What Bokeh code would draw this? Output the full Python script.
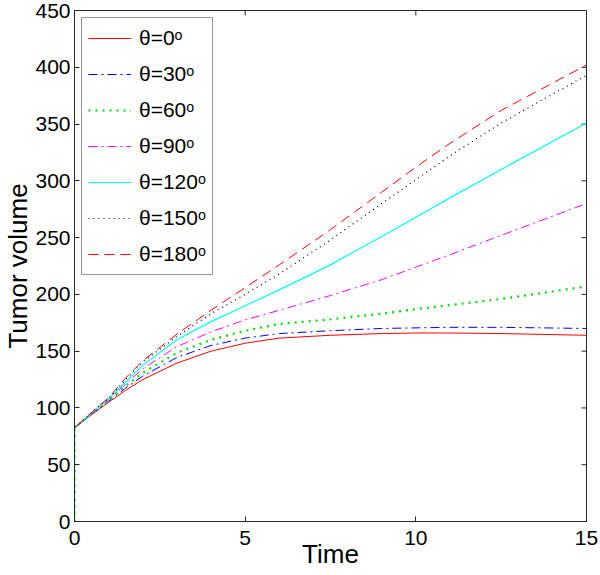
from bokeh.plotting import figure
from bokeh.models import Legend, LegendItem, Range1d, FixedTicker
from bokeh.embed import file_html
from bokeh.resources import INLINE

# Data
time = [0, 0, 0.5, 1, 1.5, 2, 3, 4, 5, 6, 7.5, 9, 10, 11, 12.5, 15]
vol_0 = [0, 82.5, 94, 105, 115.5, 125, 139.5, 150, 157, 161.5, 164, 165.5, 166, 166, 165.5, 164]
vol_30 = [0, 82.5, 94.5, 106, 117.5, 128, 144.5, 155, 161.5, 165.5, 168, 170, 170.5, 171, 171, 170]
vol_60 = [0, 82.5, 95, 107, 119.5, 131, 148.5, 160, 168, 174, 178, 183, 187, 190.5, 196, 207]
vol_90 = [0, 82.5, 95, 107.5, 121, 134.5, 154, 167, 177.5, 186, 199, 213, 224, 235, 252, 280]
vol_120 = [0, 82.5, 95.5, 108, 123, 137.5, 160, 176, 190, 204, 226, 251, 268, 285, 310, 351]
vol_150 = [0, 82.5, 96, 108.5, 125, 140.5, 163, 183, 200, 218, 248, 280, 301, 322, 351, 393]
vol_180 = [0, 82.5, 96, 109, 126.5, 141.5, 165, 186, 206, 226, 257, 290, 312, 333, 362, 402]

labels = ["θ=0ᵒ", "θ=30ᵒ", "θ=60ᵒ", "θ=90ᵒ", "θ=120ᵒ", "θ=150ᵒ", "θ=180ᵒ"]
series = [vol_0, vol_30, vol_60, vol_90, vol_120, vol_150, vol_180]
x_ticks = [0, 5, 10, 15]
y_ticks = [0, 50, 100, 150, 200, 250, 300, 350, 400, 450]
x_title = "Time"
y_title = "Tumor volume"

styles = [
    dict(line_color="#ff0000", line_dash="solid", line_width=1),
    dict(line_color="#0000ff", line_dash="9 4 2 4", line_width=1),
    dict(line_color="#00e000", line_dash="2 5", line_width=2.2),
    dict(line_color="#ff00ff", line_dash="9 4 2 4", line_width=1),
    dict(line_color="#00ffff", line_dash="solid", line_width=1.2),
    dict(line_color="#000000", line_dash="1 4", line_width=1.2),
    dict(line_color="#ff0000", line_dash="10 6", line_width=1),
]

FONT = "Liberation Sans"
X0, X1, Y0, Y1 = 0, 15, 0, 450
FW, FH = 512, 511

p = figure(width=600, height=575, output_backend="svg", toolbar_location=None,
           x_range=Range1d(X0, X1), y_range=Range1d(Y0, Y1),
           frame_width=FW, frame_height=FH,
           min_border_left=74, min_border_top=10, min_border_right=14, min_border_bottom=54)
p.grid.visible = False
p.outline_line_color = "#262626"
p.outline_line_width = 1
p.background_fill_color = "white"
p.border_fill_color = "white"

for ax in (p.xaxis[0], p.yaxis[0]):
    ax.major_tick_in = 5
    ax.major_tick_out = 0
    ax.minor_tick_line_color = None
    ax.axis_line_color = "#262626"
    ax.major_tick_line_color = "#262626"
    ax.major_label_text_font = FONT
    ax.major_label_text_font_size = "21px"
    ax.major_label_text_color = "black"
    ax.axis_label_text_font = FONT
    ax.axis_label_text_font_size = "26px"
    ax.axis_label_text_font_style = "normal"
    ax.axis_label_text_color = "black"

p.xaxis[0].ticker = FixedTicker(ticks=x_ticks)
p.yaxis[0].ticker = FixedTicker(ticks=y_ticks)
p.xaxis[0].axis_label = x_title
p.yaxis[0].axis_label = y_title
p.xaxis[0].major_label_standoff = 9
p.xaxis[0].axis_label_standoff = -9
p.yaxis[0].major_label_standoff = 4
p.yaxis[0].axis_label_standoff = -1

# mirrored inside ticks on the top and right edges of the box
tick_dx = 5 * (X1 - X0) / FW
tick_dy = 5 * (Y1 - Y0) / FH
p.segment(x0=x_ticks, y0=[Y1] * len(x_ticks), x1=x_ticks, y1=[Y1 - tick_dy] * len(x_ticks),
          line_color="#262626", line_width=1)
p.segment(x0=[X1] * len(y_ticks), y0=y_ticks, x1=[X1 - tick_dx] * len(y_ticks), y1=y_ticks,
          line_color="#262626", line_width=1)

items = []
for lab, ys, st in zip(labels, series, styles):
    r = p.line(time, ys, **st)
    items.append(LegendItem(label=lab, renderers=[r]))

legend = Legend(items=items, location="top_left")
legend.margin = 7
legend.padding = 6
legend.spacing = 8
legend.glyph_height = 28
legend.label_height = 28
legend.glyph_width = 43
legend.label_standoff = 8
legend.label_text_font = FONT
legend.label_text_font_size = "21px"
legend.label_text_color = "black"
legend.border_line_color = "#333333"
legend.border_line_width = 1
legend.background_fill_color = "white"
legend.background_fill_alpha = 1
p.add_layout(legend)

open("out.html", "w").write(file_html(p, INLINE))
